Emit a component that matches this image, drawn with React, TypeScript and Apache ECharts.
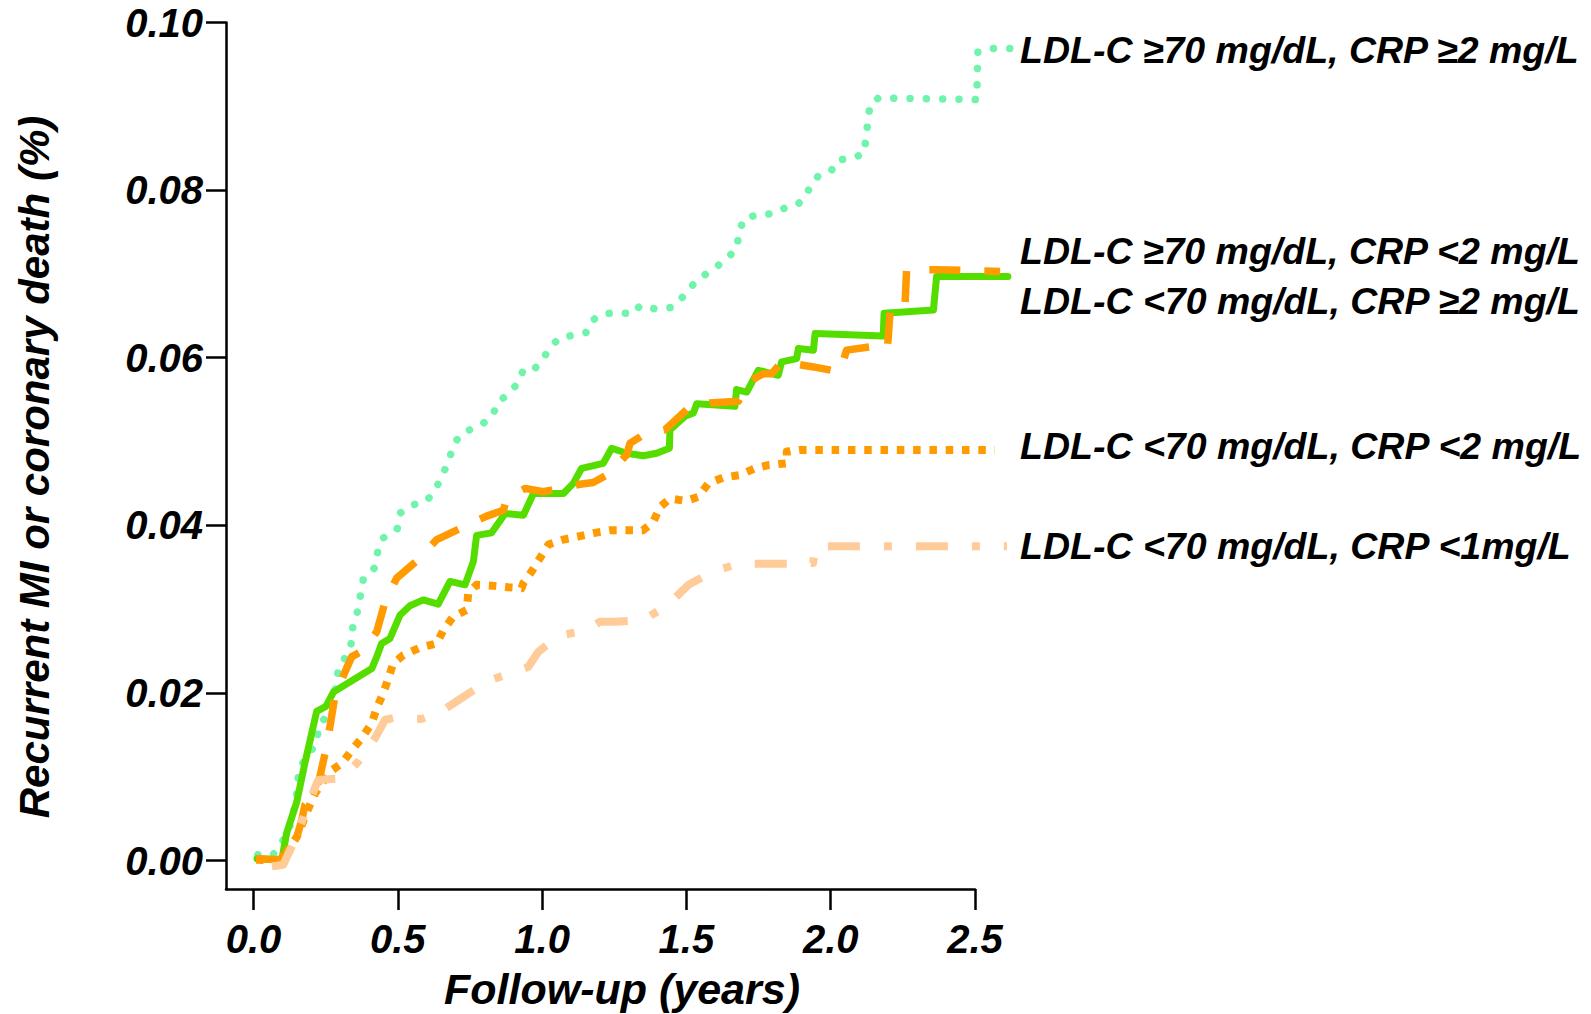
import React, { useEffect, useRef } from "react";
import * as echarts from "echarts";

const FONT = '"Liberation Sans", Arial, Helvetica, sans-serif';

const followUpTicks = [0, 0.5, 1.0, 1.5, 2.0, 2.5];
const riskTicks = [0, 0.02, 0.04, 0.06, 0.08, 0.1];

const xTitle = "Follow-up (years)";
const yTitle = "Recurrent MI or coronary death (%)";

const groupLabels = [
  "LDL-C ≥70 mg/dL, CRP ≥2 mg/L",
  "LDL-C ≥70 mg/dL, CRP <2 mg/L",
  "LDL-C <70 mg/dL, CRP ≥2 mg/L",
  "LDL-C <70 mg/dL, CRP <2 mg/L",
  "LDL-C <70 mg/dL, CRP <1mg/L",
];

// LDL-C >=70, CRP >=2 (aqua dotted)
const highLdlHighCrp: [number, number][] = [
  [0.015, 0.0007], [0.068, 0.0007], [0.12, 0.0033], [0.147, 0.007], [0.158, 0.011],
  [0.216, 0.0139], [0.227, 0.0159], [0.254, 0.0174], [0.288, 0.0209], [0.294, 0.0229],
  [0.321, 0.0244], [0.342, 0.0262], [0.344, 0.028], [0.361, 0.0298], [0.381, 0.0337],
  [0.419, 0.0349], [0.43, 0.0368], [0.45, 0.0385], [0.498, 0.0396], [0.51, 0.0415],
  [0.548, 0.0424], [0.6, 0.0429], [0.632, 0.0444], [0.658, 0.0462], [0.679, 0.048],
  [0.695, 0.0498], [0.727, 0.0511], [0.78, 0.0518], [0.826, 0.0529], [0.846, 0.0546],
  [0.879, 0.0556], [0.918, 0.057], [0.935, 0.0586], [0.972, 0.0586], [1.002, 0.0598],
  [1.027, 0.0612], [1.062, 0.0624], [1.112, 0.0627], [1.152, 0.063], [1.172, 0.0644],
  [1.207, 0.0652], [1.263, 0.0654], [1.314, 0.0652], [1.339, 0.0662], [1.394, 0.0658],
  [1.45, 0.066], [1.489, 0.0673], [1.525, 0.0688], [1.568, 0.07], [1.614, 0.0711],
  [1.651, 0.0722], [1.676, 0.0731], [1.681, 0.075], [1.702, 0.0767], [1.758, 0.0771],
  [1.806, 0.0772], [1.843, 0.0779], [1.886, 0.0783], [1.914, 0.0793], [1.931, 0.0806],
  [1.957, 0.0817], [2.002, 0.0823], [2.024, 0.0836], [2.076, 0.0838], [2.116, 0.0844],
  [2.122, 0.0863], [2.129, 0.0882], [2.136, 0.0902], [2.166, 0.091], [2.506, 0.0908],
  [2.51, 0.0965], [2.558, 0.0969], [2.621, 0.0969],
];

// LDL-C <70, CRP >=2 (green solid)
const lowLdlHighCrp: [number, number][] = [
  [0.012, 0.0002], [0.098, 0.0001], [0.115, 0.0033], [0.15, 0.007], [0.178, 0.0116],
  [0.219, 0.0178], [0.251, 0.0184], [0.277, 0.0201], [0.41, 0.0229], [0.427, 0.0243],
  [0.444, 0.0259], [0.473, 0.0265], [0.508, 0.0293], [0.542, 0.0304], [0.588, 0.0311],
  [0.64, 0.0306], [0.681, 0.0333], [0.733, 0.0329], [0.762, 0.0357], [0.773, 0.0388],
  [0.825, 0.0391], [0.872, 0.0414], [0.935, 0.0412], [0.97, 0.0438], [1.074, 0.0438],
  [1.108, 0.045], [1.137, 0.0468], [1.212, 0.0474], [1.241, 0.0492], [1.293, 0.0486],
  [1.351, 0.0483], [1.397, 0.0486], [1.441, 0.0492], [1.443, 0.0514], [1.495, 0.053],
  [1.524, 0.0534], [1.536, 0.0545], [1.668, 0.0542], [1.674, 0.0562], [1.709, 0.0559],
  [1.749, 0.0585], [1.818, 0.0579], [1.83, 0.0595], [1.882, 0.0599], [1.888, 0.0611],
  [1.94, 0.0609], [1.946, 0.0629], [2.182, 0.0626], [2.185, 0.0653], [2.356, 0.0657],
  [2.367, 0.0697], [2.614, 0.0697],
];

// LDL-C >=70, CRP <2 (orange dashed)
const highLdlLowCrp: [number, number][] = [
  [0.009, 0.0002], [0.092, 0.0001], [0.15, 0.0028], [0.167, 0.0048], [0.178, 0.0066],
  [0.213, 0.008], [0.23, 0.01], [0.248, 0.0128], [0.265, 0.016], [0.282, 0.0196],
  [0.317, 0.0225], [0.34, 0.0243], [0.381, 0.0251], [0.427, 0.0273], [0.456, 0.0309],
  [0.496, 0.0337], [0.577, 0.0361], [0.635, 0.0383], [0.727, 0.0398], [0.808, 0.0411],
  [0.866, 0.0418], [0.877, 0.0432], [0.941, 0.0444], [1.004, 0.044], [1.045, 0.0443],
  [1.131, 0.0449], [1.177, 0.0451], [1.229, 0.0461], [1.293, 0.0484], [1.305, 0.0498],
  [1.351, 0.0508], [1.426, 0.0514], [1.501, 0.0538], [1.582, 0.0546], [1.68, 0.0548],
  [1.715, 0.0571], [1.767, 0.0581], [1.796, 0.0581], [1.83, 0.0595], [1.94, 0.0589],
  [2.032, 0.0583], [2.055, 0.0609], [2.136, 0.0613], [2.196, 0.061], [2.2, 0.0627],
  [2.206, 0.0657], [2.257, 0.0659], [2.263, 0.0705], [2.367, 0.0705], [2.587, 0.0703],
];

// LDL-C <70, CRP <2 (orange dotted)
const lowLdlLowCrp: [number, number][] = [
  [0.009, 0.0001], [0.095, 0], [0.15, 0.0028], [0.19, 0.0062], [0.213, 0.008],
  [0.265, 0.0106], [0.306, 0.0116], [0.346, 0.0134], [0.375, 0.0146], [0.41, 0.0164],
  [0.427, 0.0182], [0.45, 0.02], [0.467, 0.0217], [0.484, 0.0235], [0.519, 0.0245],
  [0.577, 0.0254], [0.635, 0.0259], [0.658, 0.0275], [0.692, 0.0291], [0.739, 0.0299],
  [0.744, 0.0319], [0.773, 0.0329], [0.825, 0.0328], [0.883, 0.0326], [0.929, 0.0325],
  [0.935, 0.0331], [0.964, 0.0345], [0.993, 0.0361], [1.022, 0.0377], [1.074, 0.0383],
  [1.131, 0.0387], [1.183, 0.0391], [1.235, 0.0394], [1.349, 0.0394], [1.385, 0.0404],
  [1.409, 0.0422], [1.443, 0.0432], [1.499, 0.0429], [1.541, 0.0434], [1.576, 0.045],
  [1.628, 0.0457], [1.686, 0.046], [1.738, 0.0468], [1.787, 0.0472], [1.848, 0.0474],
  [1.848, 0.0488], [1.894, 0.049], [2.569, 0.049],
];

// LDL-C <70, CRP <1 (peach dash-dot)
const lowLdlVeryLowCrp: [number, number][] = [
  [0.064, -0.0007], [0.103, -0.0005], [0.144, 0.0025], [0.178, 0.0056], [0.219, 0.0092],
  [0.225, 0.0096], [0.306, 0.0098], [0.363, 0.0118], [0.421, 0.0146], [0.456, 0.0168],
  [0.484, 0.017], [0.583, 0.0169], [0.669, 0.0182], [0.739, 0.0198], [0.82, 0.0215],
  [0.918, 0.0227], [0.952, 0.0231], [0.987, 0.0249], [1.056, 0.0268], [1.155, 0.0275],
  [1.201, 0.0285], [1.253, 0.0285], [1.351, 0.0287], [1.432, 0.0304], [1.507, 0.0329],
  [1.593, 0.0345], [1.68, 0.0354], [1.882, 0.0354], [1.939, 0.0355], [1.946, 0.0375],
  [2.611, 0.0375],
];

const labelYs = [50, 251, 301, 446, 546];

// axis extents
const X_MIN = -0.0953;
const X_AXIS_MAX = 2.5;
const X_DATA_MAX = 2.6282;
const Y_MIN = -0.0034;
const Y_MAX = 0.1;

export default function App() {
  const ref = useRef<HTMLDivElement>(null);

  useEffect(() => {
    if (!ref.current) return;
    const chart = echarts.init(ref.current, undefined, { renderer: "svg" });

    const textStyleBase = {
      fill: "#000",
      fontFamily: FONT,
      fontWeight: "bold",
      fontStyle: "italic",
    };

    const labelStyle = {
      color: "#000",
      fontSize: 40,
      fontWeight: "bold",
      fontStyle: "italic",
      fontFamily: FONT,
    };

    const mkLine = (
      name: string,
      data: [number, number][],
      color: string,
      width: number,
      type: any,
      cap: string,
      z: number
    ) => ({
      name,
      type: "line",
      xAxisIndex: 0,
      yAxisIndex: 0,
      data,
      showSymbol: false,
      symbol: "none",
      clip: false,
      z,
      lineStyle: { color, width, type, cap, join: "round" },
      emphasis: { disabled: true },
    });

    chart.setOption({
      animation: false,
      backgroundColor: "#fff",
      grid: [
        {
          left: 226,
          right: 579,
          top: 22.5,
          bottom: 125,
          containLabel: false,
          outerBoundsMode: "none",
        },
        {
          left: 226,
          right: 616,
          top: 22.5,
          bottom: 125,
          containLabel: false,
          outerBoundsMode: "none",
        },
      ],
      xAxis: [
        {
          type: "value",
          gridIndex: 0,
          min: X_MIN,
          max: X_DATA_MAX,
          show: false,
        },
        {
          type: "value",
          gridIndex: 1,
          min: X_MIN,
          max: X_AXIS_MAX,
          splitLine: { show: false },
          axisLine: { show: true, onZero: false, lineStyle: { color: "#000", width: 2.5 } },
          axisTick: {
            show: true,
            length: 21,
            inside: false,
            customValues: followUpTicks,
            lineStyle: { color: "#000", width: 2.5 },
          },
          axisLabel: {
            show: true,
            customValues: followUpTicks,
            margin: 30,
            ...labelStyle,
            formatter: (v: number) => v.toFixed(1),
          },
        },
      ],
      yAxis: [
        {
          type: "value",
          gridIndex: 0,
          min: Y_MIN,
          max: Y_MAX,
          show: false,
        },
        {
          type: "value",
          gridIndex: 1,
          min: Y_MIN,
          max: Y_MAX,
          splitLine: { show: false },
          axisLine: { show: true, onZero: false, lineStyle: { color: "#000", width: 2.5 } },
          axisTick: {
            show: true,
            length: 20,
            inside: false,
            customValues: riskTicks,
            lineStyle: { color: "#000", width: 2.5 },
          },
          axisLabel: {
            show: true,
            customValues: riskTicks,
            margin: 23,
            ...labelStyle,
            formatter: (v: number) => v.toFixed(2),
          },
        },
      ],
      series: [
        mkLine(groupLabels[0], highLdlHighCrp, "#70f4ab", 7.5, [0.1, 16.2], "round", 2),
        mkLine(groupLabels[2], lowLdlHighCrp, "#55dd00", 7, "solid", "round", 3),
        mkLine(groupLabels[3], lowLdlLowCrp, "#ff9a00", 8, [7.5, 8.8], "butt", 4),
        mkLine(groupLabels[1], highLdlLowCrp, "#ff9a00", 7.5, [31, 24], "butt", 5),
        mkLine(groupLabels[4], lowLdlVeryLowCrp, "#ffcb99", 8, [32, 24, 8, 24], "butt", 6),
      ],
      graphic: [
        {
          type: "text",
          x: 34,
          y: 467,
          rotation: Math.PI / 2,
          style: {
            ...textStyleBase,
            text: yTitle,
            fontSize: 42,
            align: "center",
            verticalAlign: "middle",
            textAlign: "center",
            textVerticalAlign: "middle",
          },
        },
        {
          type: "text",
          x: 622,
          y: 989,
          style: {
            ...textStyleBase,
            text: xTitle,
            fontSize: 43,
            align: "center",
            verticalAlign: "middle",
            textAlign: "center",
            textVerticalAlign: "middle",
          },
        },
        ...groupLabels.map((t, i) => ({
          type: "text",
          x: 1020,
          y: labelYs[i],
          style: {
            ...textStyleBase,
            text: t,
            fontSize: 37.5,
            align: "left",
            verticalAlign: "middle",
            textAlign: "left",
            textVerticalAlign: "middle",
          },
        })),
      ],
    });

    return () => chart.dispose();
  }, []);

  return (
    <div
      ref={ref}
      style={{ position: "absolute", left: 0, top: 0, width: 1591, height: 1014 }}
    />
  );
}
